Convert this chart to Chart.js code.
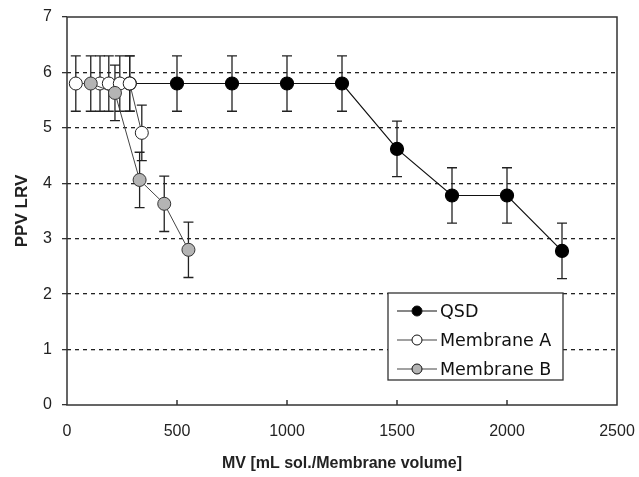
<!DOCTYPE html>
<html>
<head>
<meta charset="utf-8">
<script src="https://cdn.jsdelivr.net/npm/chart.js@4.4.1/dist/chart.umd.min.js"></script>
<style>
  html, body { margin: 0; padding: 0; background: #fff; }
  #wrap { width: 639px; height: 477px; }
</style>
</head>
<body>
<div id="wrap"><canvas id="chart" width="639" height="477"></canvas></div>
<script>
// Data
const mvQSD = [285, 500, 750, 1000, 1250, 1500, 1750, 2000, 2250];
const lrvQSD = [5.8, 5.8, 5.8, 5.8, 5.8, 4.62, 3.78, 3.78, 2.78];
const errQSD = [0.5, 0.5, 0.5, 0.5, 0.5, 0.5, 0.5, 0.5, 0.5];

const mvMembA = [40, 150, 190, 240, 285, 340];
const lrvMembA = [5.8, 5.8, 5.8, 5.8, 5.8, 4.91];
const errMembA = [0.5, 0.5, 0.5, 0.5, 0.5, 0.5];

const mvMembB = [108, 218, 330, 442, 552];
const lrvMembB = [5.8, 5.63, 4.06, 3.63, 2.8];
const errMembB = [0.5, 0.5, 0.5, 0.5, 0.5];

const xTicks = [0, 500, 1000, 1500, 2000, 2500];
const yTicks = [0, 1, 2, 3, 4, 5, 6, 7];

const tickFont = { family: "'Liberation Sans', Arial, sans-serif", size: 16 };
const titleFont = { family: "'Liberation Sans', Arial, sans-serif", size: 16, weight: 'bold' };

function toPoints(xs, ys) {
    return xs.map((x, i) => ({ x: x, y: ys[i] }));
}

// error bars, drawn under the markers
const errorBars = {
    id: 'errorBars',
    beforeDatasetsDraw(chart) {
        const ctx = chart.ctx;
        const xs = chart.scales.x, ys = chart.scales.y;
        ctx.save();
        ctx.strokeStyle = '#222';
        ctx.lineWidth = 1.3;
        chart.data.datasets.forEach((ds) => {
            ds.data.forEach((p, i) => {
                const e = ds.errors[i];
                const px = xs.getPixelForValue(p.x);
                const top = ys.getPixelForValue(p.y + e);
                const bot = ys.getPixelForValue(p.y - e);
                ctx.beginPath();
                ctx.moveTo(px, top); ctx.lineTo(px, bot);
                ctx.moveTo(px - 5, top); ctx.lineTo(px + 5, top);
                ctx.moveTo(px - 5, bot); ctx.lineTo(px + 5, bot);
                ctx.stroke();
            });
        });
        ctx.restore();
    }
};

// plot frame and inward x ticks
const frame = {
    id: 'frame',
    beforeDatasetsDraw(chart) {
        const ctx = chart.ctx;
        const a = chart.chartArea;
        const xs = chart.scales.x;
        ctx.save();
        ctx.strokeStyle = '#333';
        ctx.lineWidth = 1.5;
        ctx.strokeRect(a.left, a.top, a.right - a.left, a.bottom - a.top);
        ctx.beginPath();
        xTicks.slice(1, -1).forEach((v) => {
            const px = xs.getPixelForValue(v);
            ctx.moveTo(px, a.bottom);
            ctx.lineTo(px, a.bottom - 5);
        });
        ctx.stroke();
        ctx.restore();
    }
};

// boxed legend inside the plot area
const boxLegend = {
    id: 'boxLegend',
    afterDatasetsDraw(chart) {
        const ctx = chart.ctx;
        const left = 388, top = 293, w = 175, h = 87;
        ctx.save();
        ctx.fillStyle = '#fff';
        ctx.fillRect(left, top, w, h);
        ctx.strokeStyle = '#333';
        ctx.lineWidth = 1.3;
        ctx.strokeRect(left, top, w, h);
        ctx.font = "17.5px 'DejaVu Sans', sans-serif";
        ctx.textBaseline = 'middle';
        chart.data.datasets.forEach((ds, i) => {
            const cy = top + 18 + i * 29;
            ctx.strokeStyle = ds.borderColor;
            ctx.lineWidth = 1.2;
            ctx.beginPath();
            ctx.moveTo(left + 9, cy); ctx.lineTo(left + 49, cy);
            ctx.stroke();
            ctx.beginPath();
            ctx.arc(left + 29, cy, 5, 0, Math.PI * 2);
            ctx.fillStyle = ds.pointBackgroundColor;
            ctx.fill();
            ctx.strokeStyle = '#111';
            ctx.lineWidth = 1;
            ctx.stroke();
            ctx.fillStyle = '#111';
            ctx.fillText(ds.label, left + 52, cy + 1);
        });
        ctx.restore();
    }
};

const chart = new Chart(document.getElementById('chart'), {
    type: 'line',
    data: {
        datasets: [
            {
                label: 'QSD',
                data: toPoints(mvQSD, lrvQSD),
                errors: errQSD,
                borderColor: '#111',
                borderWidth: 1.2,
                pointBackgroundColor: '#000',
                pointBorderColor: '#000',
                pointRadius: 6.5,
                order: 3
            },
            {
                label: 'Membrane A',
                data: toPoints(mvMembA, lrvMembA),
                errors: errMembA,
                borderColor: '#444',
                borderWidth: 1,
                pointBackgroundColor: '#fff',
                pointBorderColor: '#222',
                pointBorderWidth: 1,
                pointRadius: 6.5,
                order: 2
            },
            {
                label: 'Membrane B',
                data: toPoints(mvMembB, lrvMembB),
                errors: errMembB,
                borderColor: '#444',
                borderWidth: 1,
                pointBackgroundColor: '#b4b4b4',
                pointBorderColor: '#333',
                pointBorderWidth: 1,
                pointRadius: 6.5,
                order: 1
            }
        ]
    },
    options: {
        responsive: false,
        animation: false,
        layout: { padding: { top: 17, right: 22, left: 8, bottom: 0 } },
        plugins: {
            legend: { display: false },
            tooltip: { enabled: false }
        },
        scales: {
            x: {
                type: 'linear',
                min: 0,
                max: 2500,
                afterBuildTicks: (s) => { s.ticks = xTicks.map((v) => ({ value: v })); },
                afterFit: (s) => { s.height = 72; s.paddingLeft = 0; s.paddingRight = 0; },
                grid: { drawOnChartArea: false, drawTicks: false },
                border: { display: false },
                ticks: {
                    color: '#222', font: tickFont, padding: 17, maxRotation: 0,
                    callback: (v) => String(v)
                },
                title: {
                    display: true,
                    text: 'MV [mL sol./Membrane volume]',
                    color: '#222',
                    font: titleFont,
                    padding: { top: 8 }
                }
            },
            y: {
                min: 0,
                max: 7,
                afterBuildTicks: (s) => { s.ticks = yTicks.map((v) => ({ value: v })); },
                afterFit: (s) => { s.width = 59; s.paddingTop = 0; s.paddingBottom = 0; },
                grid: {
                    color: (c) => (c.tick.value === 0 || c.tick.value === 7 ? 'rgba(0,0,0,0)' : '#222'),
                    tickColor: '#333',
                    lineWidth: 1.3,
                    tickLength: 5
                },
                border: { display: false, dash: [4, 4] },
                ticks: { color: '#222', font: tickFont, padding: 10 },
                title: {
                    display: true,
                    text: 'PPV LRV',
                    color: '#222',
                    font: { family: titleFont.family, size: 17, weight: 'bold' },
                    padding: { bottom: 0 }
                }
            }
        }
    },
    plugins: [frame, errorBars, boxLegend]
});
</script>
</body>
</html>
